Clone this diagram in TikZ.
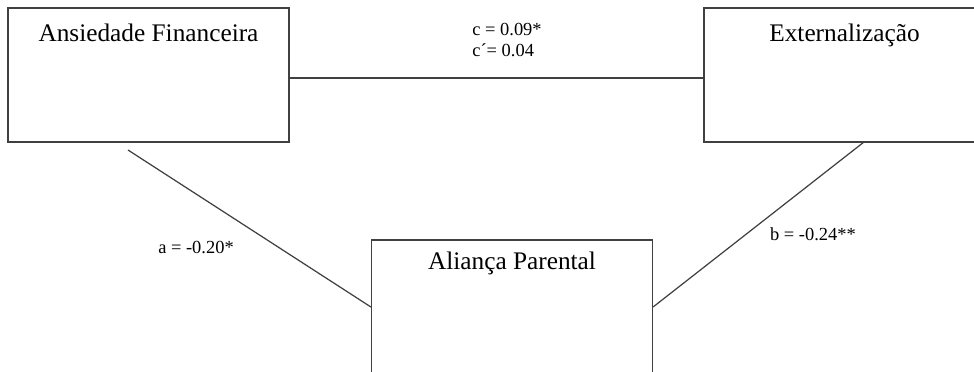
\documentclass[tikz,border=0pt]{standalone}
\usepackage{fontspec}
\setmainfont{Liberation Serif}
\usetikzlibrary{positioning}

\tikzset{
  caixa/.style={draw=black!75, line width=0.7pt, minimum width=5.62cm, minimum height=2.68cm, inner sep=0pt},
  titulo/.style={font=\fontsize{14.4}{17}\selectfont, inner sep=0pt},
  coef/.style={font=\fontsize{10.5}{12.4}\selectfont, inner sep=0pt, align=left},
  liga/.style={draw=black!75, line width=0.7pt}
}

\begin{document}
\begin{tikzpicture}[x=0.02cm,y=0.02cm]
  \useasboundingbox (0,0) rectangle (974,-372);

  \node[caixa] (ansiedade) at (148.5,-75) {};
  \node[caixa] (externa) at (844.5,-75) {};
  \node[caixa] (alianca) at (512,-307) {};

  \node[titulo, below=0.33cm of ansiedade.north] (tAns) {Ansiedade Financeira};
  \node[titulo, below=0.33cm of externa.north] (tExt) {Externalização};
  \node[titulo, below=0.25cm of alianca.north] (tAli) {Aliança Parental};

  \coordinate (a0) at (128,-150);%gap under the box
  \coordinate (b0) at (864,-142);

  \draw[liga] ([yshift=-0.06cm]ansiedade.east) -- ([yshift=-0.06cm]externa.west);
  \draw[liga] (a0) -- (alianca.west);
  \draw[liga] (b0) -- (alianca.east);

  \node[coef, anchor=west] (c) at (472,-40) {c = 0.09*\\c´= 0.04};
  \node[coef] (a) at (196,-247.5) {a = -0.20*};
  \node[coef] (b) at (813,-234) {b = -0.24**};
\end{tikzpicture}
\end{document}
